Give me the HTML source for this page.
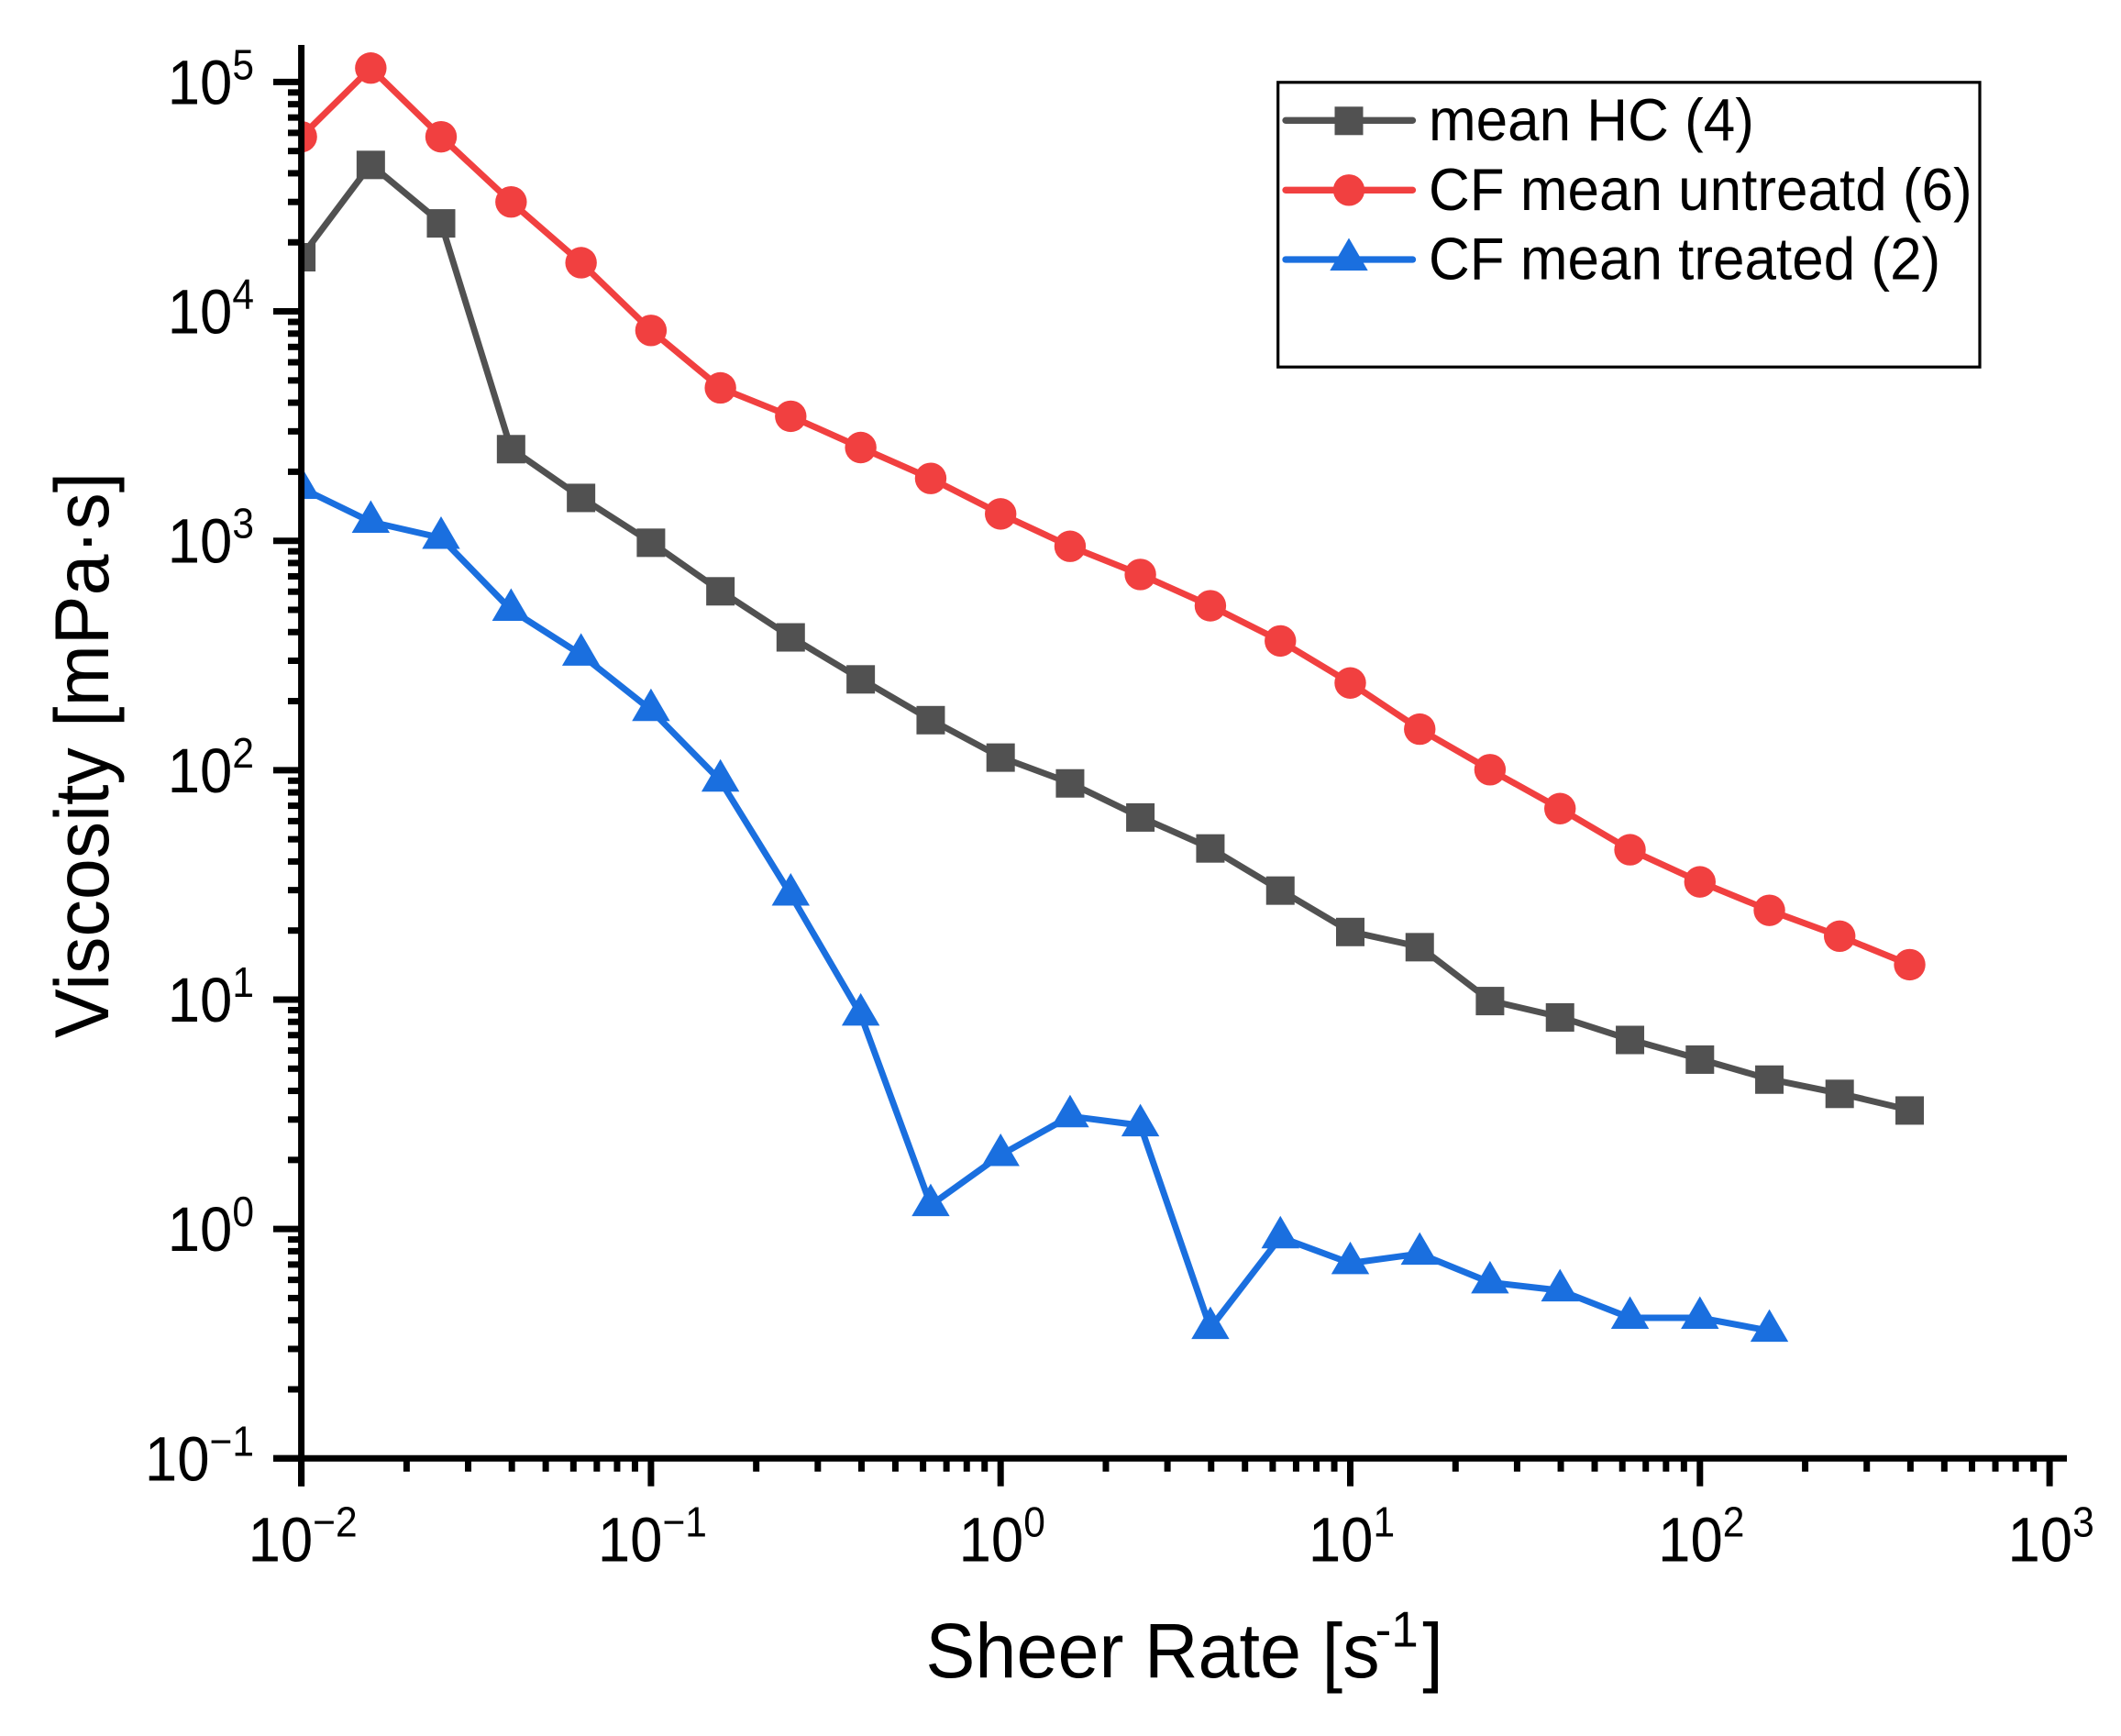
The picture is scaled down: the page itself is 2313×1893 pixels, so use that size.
<!DOCTYPE html>
<html lang="en">
<head>
<meta charset="utf-8">
<title>Viscosity vs Sheer Rate</title>
<style>
html,body{margin:0;padding:0;background:#fff;width:2313px;height:1893px;overflow:hidden}
svg{display:block}
text{font-family:"Liberation Sans",Arial,sans-serif;fill:#000}
</style>
</head>
<body>
<svg id="chart" xmlns="http://www.w3.org/2000/svg" width="2313" height="1893" viewBox="0 0 2313 1893">
<defs><clipPath id="plot-clip"><rect x="328.6" y="40" width="1930" height="1550"/></clipPath></defs>
<rect width="2313" height="1893" fill="#fff"/>
<g id="series-layer" clip-path="url(#plot-clip)"></g>
<g id="axes-layer"></g>
<text transform="translate(1009.4,1829) scale(1,1.04)" font-size="81">Sheer Rate [s<tspan font-size="53" dx="-5" dy="-32">-1</tspan><tspan dx="4.5" dy="32">]</tspan></text>
<text transform="translate(118,823.5) rotate(-90) scale(1,1.04)" text-anchor="middle" font-size="80.7">Viscosity [mPa·s]</text>
<g>
<rect x="1393.7" y="89.8" width="765.3" height="310.4" fill="#fff" stroke="#000" stroke-width="3.2"/>
<g id="legend-entries"></g>
</g>
</svg>
<script>
const shearRates = [0.01,0.0158,0.0251,0.0398,0.0631,0.1,0.158,0.251,0.398,0.631,1,1.58,2.51,3.98,6.31,10,15.8,25.1,39.8,63.1,100,158,251,398];
const meanHC = [17300,43700,24300,2520,1545,985,605,381,250,166,114,88,62.5,45.8,30,19.8,17,9.9,8.4,6.7,5.5,4.5,3.9,3.3];
const cfUntreated = [57700,115000,57700,30000,16300,8260,4640,3490,2550,1870,1310,946,713,521,366,240,151,100.5,68,45,32.6,24.5,18.9,14.2];
const cfTreated = [1700,1210,1030,500,319,183,90,28.7,8.6,1.27,2.1,3.1,2.83,0.37,0.92,0.71,0.78,0.585,0.54,0.41,0.41,0.36];
const xTickExponents = [-2,-1,0,1,2,3];
const yTickExponents = [-1,0,1,2,3,4,5];
const minorMultiples = [2,3,4,5,6,7,8,9];
const legendLabels = ["mean HC (4)","CF mean untreatd (6)","CF mean treated (2)"];

const NS = "http://www.w3.org/2000/svg";
const X0 = 328.6, XDEC = 381.3, XMINEXP = -2;
const Y0 = 1590.3, YDEC = 250.15, YMINEXP = -1;
const xScale = v => X0 + (Math.log10(v) - XMINEXP) * XDEC;
const yScale = v => Y0 - (Math.log10(v) - YMINEXP) * YDEC;
const GREY = "#515151", RED = "#F14040", BLUE = "#1A6FDF";

function mk(parent, tag, attrs, txt) {
  const el = document.createElementNS(NS, tag);
  for (const k in attrs) el.setAttribute(k, attrs[k]);
  if (txt !== undefined) el.textContent = txt;
  parent.appendChild(el);
  return el;
}
function drawMarker(parent, kind, cx, cy, color) {
  if (kind === "square") return mk(parent, "rect", {x: cx - 15.5, y: cy - 15, width: 31, height: 31, fill: color});
  if (kind === "circle") return mk(parent, "circle", {cx: cx, cy: cy, r: 17.2, fill: color});
  return mk(parent, "polygon", {points: `${cx},${cy - 23.5} ${cx + 20.7},${cy + 12} ${cx - 20.7},${cy + 12}`, fill: color});
}

const seriesLayer = document.getElementById("series-layer");
const axesLayer = document.getElementById("axes-layer");
const legendEntries = document.getElementById("legend-entries");

const seriesList = [
  {slug: "mean-hc", values: meanHC, color: GREY, kind: "square"},
  {slug: "cf-untreated", values: cfUntreated, color: RED, kind: "circle"},
  {slug: "cf-treated", values: cfTreated, color: BLUE, kind: "triangle"}
];

seriesList.forEach(s => {
  const g = mk(seriesLayer, "g", {});
  
  
  const pts = s.values.map((v, i) => xScale(shearRates[i]).toFixed(1) + "," + yScale(v).toFixed(1)).join(" ");
  const line = mk(g, "polyline", {points: pts, fill: "none", stroke: s.color, "stroke-width": 7, "stroke-linejoin": "round"});
  
  
  s.values.forEach((v, i) => {
    const m = drawMarker(g, s.kind, xScale(shearRates[i]), yScale(v), s.color);
    
    
  });
});

function hLine(x1, x2, y, w, name) {
  const l = mk(axesLayer, "line", {x1: x1, x2: x2, y1: y, y2: y, stroke: "#000", "stroke-width": w});
  
  
}
function vLine(x, y1, y2, w, name) {
  const l = mk(axesLayer, "line", {x1: x, x2: x, y1: y1, y2: y2, stroke: "#000", "stroke-width": w});
  
  
}
function exponentStr(e) { return e < 0 ? "\u2212" + (-e) : String(e); }

vLine(X0, 49, 1620.7, 7, 'y-axis-line');
hLine(298, 2254, Y0, 7, 'x-axis-line');

xTickExponents.forEach(e => {
  const base = Math.pow(10, e);
  vLine(xScale(base), Y0, 1620.7, 7, 'x-major-tick');
  if (e < xTickExponents[xTickExponents.length - 1]) {
    minorMultiples.forEach(m => vLine(xScale(base * m), Y0, 1604.7, 7, 'x-minor-tick'));
  }
  const t = mk(axesLayer, "text", {transform: `translate(${xScale(base) + 1.5},1702.7) scale(1,1.08)`, "text-anchor": "middle", "font-size": 63.5});
  
  
  mk(t, "tspan", {}, "10");
  mk(t, "tspan", {"font-size": 42.5, dy: -25}, exponentStr(e));
});

yTickExponents.forEach(e => {
  const base = Math.pow(10, e);
  hLine(298, X0, yScale(base), 7, 'y-major-tick');
  if (e < yTickExponents[yTickExponents.length - 1]) {
    minorMultiples.forEach(m => hLine(314, X0, yScale(base * m), 7, 'y-minor-tick'));
  }
  const t = mk(axesLayer, "text", {transform: `translate(277,${yScale(base) + 24}) scale(1,1.08)`, "text-anchor": "end", "font-size": 63.5});
  
  
  mk(t, "tspan", {}, "10");
  mk(t, "tspan", {"font-size": 42.5, dy: -25}, exponentStr(e));
});

const legendLineY = [131.3, 207.3, 283];
seriesList.forEach((s, i) => {
  const g = mk(legendEntries, "g", {});
  
  
  const y = legendLineY[i];
  const l = mk(g, "line", {x1: 1402, x2: 1540.5, y1: y, y2: y, stroke: s.color, "stroke-width": 7.3, "stroke-linecap": "round"});
  
  
  const m = drawMarker(g, s.kind, 1471, y, s.color);
  
  
  const t = mk(g, "text", {transform: `translate(1558,${y + 21.5}) scale(1,1.04)`, "font-size": 62}, legendLabels[i]);
  
  
});
</script>
</body>
</html>
